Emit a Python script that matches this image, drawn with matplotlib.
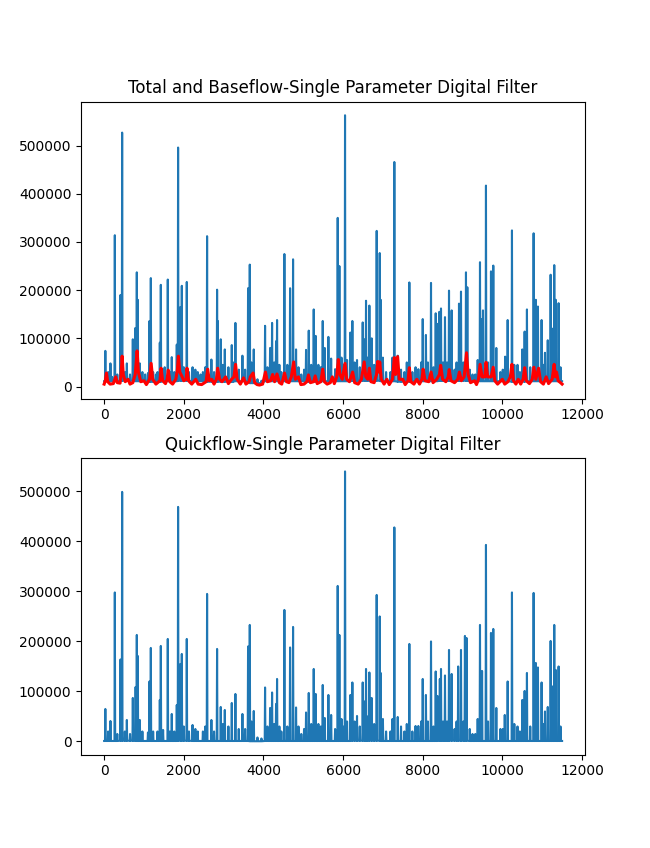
import numpy as np
import matplotlib
matplotlib.use("Agg")
import matplotlib.pyplot as plt

# ---- Total flow: spike days and heights ----
total_days = [
    30, 100, 158, 200, 268, 330, 410, 452, 520, 570,
    650, 720, 778, 820, 845, 896, 960, 1030, 1100, 1138,
    1172, 1230, 1300, 1340, 1398, 1423, 1480, 1520, 1598, 1650,
    1698, 1760, 1824, 1857, 1915, 1950, 2000, 2075, 2130, 2220,
    2290, 2350, 2420, 2480, 2540, 2585, 2693, 2760, 2836, 2855,
    2928, 2980, 3030, 3120, 3205, 3240, 3296, 3380, 3472, 3540,
    3614, 3657, 3700, 3757, 3850, 3950, 4041, 4100, 4167, 4217,
    4270, 4317, 4342, 4400, 4450, 4526, 4600, 4669, 4744, 4819,
    4880, 4950, 5020, 5070, 5138, 5200, 5263, 5313, 5380, 5440,
    5489, 5540, 5631, 5700, 5800, 5865, 5907, 5960, 6000, 6049,
    6100, 6183, 6233, 6290, 6350, 6420, 6493, 6535, 6576, 6620,
    6660, 6718, 6780, 6844, 6920, 6945, 7000, 7080, 7190, 7240,
    7287, 7372, 7455, 7540, 7600, 7664, 7740, 7820, 7890, 7960,
    8000, 8080, 8130, 8208, 8270, 8326, 8370, 8417, 8459, 8510,
    8559, 8610, 8660, 8727, 8800, 8850, 8911, 8961, 9020, 9086,
    9120, 9180, 9250, 9320, 9380, 9438, 9480, 9513, 9588, 9640,
    9714, 9772, 9848, 9950, 10010, 10070, 10133, 10241, 10300, 10380,
    10440, 10500, 10559, 10617, 10700, 10785, 10840, 10893, 10985, 11030,
    11070, 11140, 11212, 11260, 11303, 11340, 11412, 11460,
]
total_peak = [
    74000, 30000, 48000, 20000, 314000, 25000, 190000, 527000, 30000, 48000,
    25000, 98000, 121000, 237000, 180000, 48000, 30000, 25000, 28000, 136000,
    225000, 30000, 25000, 30000, 91000, 211000, 35000, 40000, 222000, 30000,
    61000, 30000, 87000, 496000, 165000, 209000, 40000, 217000, 30000, 40000,
    35000, 30000, 25000, 30000, 40000, 312000, 56000, 30000, 201000, 136000,
    98000, 45000, 77000, 40000, 86000, 50000, 132000, 35000, 64000, 35000,
    204000, 253000, 50000, 77000, 15000, 12000, 126000, 40000, 80000, 132000,
    50000, 94000, 138000, 45000, 30000, 275000, 45000, 204000, 264000, 77000,
    40000, 25000, 35000, 76000, 116000, 45000, 160000, 105000, 45000, 40000,
    136000, 80000, 103000, 58000, 36000, 350000, 250000, 60000, 45000, 563000,
    55000, 112000, 136000, 50000, 55000, 40000, 133000, 98000, 178000, 60000,
    168000, 100000, 45000, 323000, 277000, 180000, 60000, 30000, 30000, 60000,
    466000, 64000, 35000, 30000, 50000, 216000, 30000, 40000, 36000, 50000,
    140000, 107000, 50000, 215000, 40000, 152000, 130000, 155000, 162000, 50000,
    144000, 50000, 199000, 158000, 35000, 50000, 172000, 197000, 50000, 237000,
    206000, 35000, 25000, 25000, 55000, 258000, 140000, 158000, 417000, 50000,
    239000, 251000, 80000, 30000, 35000, 62000, 138000, 324000, 45000, 45000,
    30000, 77000, 114000, 160000, 40000, 318000, 180000, 166000, 138000, 45000,
    70000, 96000, 232000, 120000, 252000, 180000, 173000, 40000,
]
# low level of the total flow between events, one value per year (365 days)
total_floor = [
    11000, 12000, 11000, 10000, 11000, 12000, 11000, 10000, 10000, 11000,
    7000, 11000, 11000, 11000, 10000, 11000, 11000, 12000, 12000, 11000,
    10000, 11000, 11000, 12000, 12000, 11000, 11000, 11000, 10000, 11000,
    11000, 11000,
]

# ---- Baseflow (red) vertices ----
base_days = [
    0, 30, 58, 90, 150, 230, 290, 330, 400, 430, 452, 480, 530, 600, 650,
    720, 780, 828, 860, 920, 1000, 1060, 1140, 1180, 1220, 1300, 1400, 1430,
    1470, 1540, 1580, 1610, 1650, 1720, 1800, 1840, 1865, 1900, 1960, 2000,
    2060, 2080, 2120, 2200, 2300, 2360, 2450, 2560, 2600, 2640, 2700, 2760,
    2820, 2850, 2900, 2960, 3050, 3120, 3200, 3260, 3300, 3340, 3420, 3500,
    3560, 3640, 3670, 3740, 3780, 3840, 3900, 3980, 4050, 4100, 4180, 4230,
    4280, 4340, 4400, 4460, 4530, 4580, 4640, 4700, 4760, 4800, 4880, 4940,
    5020, 5090, 5130, 5180, 5260, 5300, 5350, 5440, 5489, 5530, 5600, 5680,
    5730, 5780, 5840, 5880, 5920, 5980, 6049, 6090, 6160, 6240, 6290, 6380,
    6460, 6530, 6570, 6620, 6660, 6700, 6780, 6840, 6870, 6900, 6920, 6960,
    7030, 7100, 7160, 7240, 7287, 7320, 7370, 7410, 7500, 7560, 7630, 7664,
    7700, 7780, 7850, 7920, 7980, 8010, 8060, 8150, 8210, 8260, 8350, 8420,
    8450, 8500, 8580, 8640, 8665, 8710, 8800, 8880, 8920, 8970, 9040, 9100,
    9140, 9200, 9300, 9350, 9400, 9440, 9490, 9560, 9590, 9630, 9720, 9770,
    9810, 9880, 10000, 10060, 10140, 10200, 10240, 10280, 10340, 10400, 10460,
    10520, 10560, 10600, 10680, 10750, 10790, 10840, 10910, 10960, 11030,
    11100, 11160, 11250, 11300, 11330, 11360, 11400, 11460, 11500,
]
base_vals = [
    5000, 12000, 28000, 10000, 5000, 6000, 20000, 8000, 7000, 30000, 63000, 25000, 10000, 15000, 5000,
    8000, 25000, 74000, 30000, 10000, 12000, 4000, 15000, 48000, 15000, 5000, 12000, 38000,
    12000, 6000, 15000, 34000, 10000, 5000, 15000, 35000, 63000, 30000, 20000, 12000,
    15000, 38000, 12000, 5000, 15000, 5000, 4000, 10000, 36000, 12000, 15000, 5000,
    15000, 38000, 15000, 10000, 20000, 6000, 15000, 20000, 46000, 15000, 5000, 18000,
    5000, 10000, 20000, 28000, 8000, 4000, 3000, 5000, 30000, 10000, 12000, 25000,
    10000, 26000, 8000, 5000, 28000, 10000, 8000, 20000, 51000, 15000, 20000, 4000,
    5000, 10000, 24000, 8000, 10000, 22000, 6000, 10000, 36000, 10000, 5000, 8000,
    20000, 6000, 20000, 56000, 25000, 15000, 48000, 15000, 10000, 30000, 8000, 5000,
    15000, 51000, 20000, 15000, 38000, 10000, 8000, 25000, 52000, 30000, 51000, 15000,
    5000, 15000, 4000, 15000, 60000, 25000, 62000, 15000, 15000, 4000, 12000, 39000,
    10000, 5000, 15000, 5000, 15000, 36000, 12000, 10000, 30000, 8000, 15000, 25000,
    44000, 15000, 10000, 20000, 35000, 12000, 8000, 15000, 30000, 12000, 20000, 70000,
    25000, 8000, 12000, 4000, 15000, 46000, 20000, 20000, 50000, 20000, 20000, 40000,
    12000, 5000, 15000, 5000, 10000, 20000, 46000, 12000, 5000, 15000, 5000,
    15000, 39000, 12000, 6000, 15000, 40000, 15000, 38000, 10000, 5000,
    20000, 6000, 15000, 46000, 20000, 30000, 12000, 8000, 5000,
]

# ---- Quickflow: spike days and heights ----
quick_days = [
    30, 100, 158, 268, 330, 410, 452, 520, 570, 650,
    720, 790, 820, 845, 896, 960, 1100, 1138, 1172, 1230,
    1340, 1398, 1423, 1480, 1598, 1650, 1698, 1760, 1824, 1857,
    1915, 1950, 2000, 2075, 2130, 2220, 2290, 2350, 2480, 2540,
    2585, 2693, 2760, 2836, 2928, 2980, 3030, 3120, 3205, 3296,
    3380, 3472, 3540, 3614, 3657, 3700, 3757, 3850, 3950, 4041,
    4100, 4167, 4217, 4270, 4317, 4342, 4400, 4450, 4526, 4600,
    4669, 4744, 4819, 4880, 4950, 5020, 5070, 5138, 5200, 5263,
    5313, 5380, 5440, 5489, 5540, 5631, 5700, 5800, 5865, 5907,
    5960, 6000, 6049, 6100, 6183, 6233, 6290, 6350, 6420, 6493,
    6535, 6576, 6620, 6660, 6718, 6780, 6844, 6920, 6945, 7000,
    7080, 7190, 7240, 7287, 7372, 7455, 7540, 7600, 7664, 7740,
    7820, 7890, 7960, 8000, 8080, 8130, 8208, 8270, 8326, 8370,
    8430, 8459, 8510, 8559, 8610, 8660, 8727, 8800, 8850, 8890,
    8961, 9020, 9060, 9100, 9180, 9250, 9320, 9380, 9438, 9490,
    9588, 9640, 9714, 9772, 9848, 9950, 10010, 10060, 10133, 10241,
    10300, 10380, 10440, 10500, 10559, 10617, 10700, 10785, 10840, 10893,
    10985, 11030, 11070, 11140, 11212, 11260, 11303, 11340, 11412, 11460,
]
quick_peak = [
    65000, 20000, 41000, 298000, 15000, 164000, 499000, 20000, 43000, 15000,
    87000, 109000, 213000, 171000, 43000, 20000, 18000, 120000, 187000, 20000,
    20000, 83000, 191000, 23000, 205000, 20000, 55000, 20000, 73000, 469000,
    155000, 175000, 30000, 205000, 20000, 33000, 25000, 20000, 20000, 30000,
    295000, 43000, 20000, 185000, 69000, 35000, 63000, 30000, 77000, 95000,
    25000, 55000, 25000, 190000, 233000, 40000, 61000, 8000, 6000, 108000,
    30000, 67000, 98000, 35000, 75000, 125000, 30000, 20000, 263000, 30000,
    188000, 229000, 68000, 30000, 15000, 25000, 58000, 97000, 35000, 145000,
    95000, 35000, 30000, 113000, 47000, 93000, 53000, 25000, 311000, 213000,
    45000, 30000, 540000, 40000, 93000, 118000, 40000, 51000, 30000, 118000,
    80000, 145000, 50000, 138000, 87000, 35000, 293000, 250000, 137000, 45000,
    20000, 20000, 45000, 428000, 49000, 30000, 20000, 35000, 195000, 20000,
    31000, 31000, 40000, 125000, 93000, 40000, 200000, 30000, 140000, 91000,
    125000, 145000, 40000, 132000, 40000, 183000, 135000, 25000, 40000, 150000,
    183000, 40000, 211000, 207000, 25000, 15000, 15000, 45000, 233000, 141000,
    393000, 40000, 217000, 225000, 67000, 25000, 25000, 53000, 120000, 298000,
    35000, 30000, 20000, 83000, 101000, 137000, 30000, 297000, 157000, 148000,
    118000, 35000, 60000, 69000, 201000, 110000, 233000, 143000, 150000, 30000,
]
# low level of the quickflow between events, one value per year (365 days)
quick_floor = [
    1000, 1500, 1000, 1000, 1000, 1500, 1000, 1000, 1000, 1000,
    500, 1000, 1000, 1000, 1000, 1000, 1000, 1500, 1500, 1000,
    1000, 1000, 1000, 1500, 1500, 1000, 1000, 1000, 1000, 1000,
    1000, 1000,
]

FIRST_DAY = 0
LAST_DAY = 11500
SPIKE_HALF_WIDTH = 9   # drawing style: half width of each spike in days


def spike_line(days, peaks, floor_by_year):
    xs = [FIRST_DAY]
    ys = [floor_by_year[0]]
    for d, p in zip(days, peaks):
        f = floor_by_year[min(d // 365, len(floor_by_year) - 1)]
        xs += [d - SPIKE_HALF_WIDTH, d, d + SPIKE_HALF_WIDTH]
        ys += [f, p, f]
    xs.append(LAST_DAY)
    ys.append(floor_by_year[-1])
    return np.array(xs), np.array(ys)


tx, ty = spike_line(total_days, total_peak, total_floor)
qx, qy = spike_line(quick_days, quick_peak, quick_floor)

fig, (ax1, ax2) = plt.subplots(2, 1, figsize=(6.5, 8.48), dpi=100)

ax1.plot(tx, ty, color="#1f77b4", linewidth=1.5)
ax1.plot(base_days, base_vals, color="red", linewidth=2.2)
ax1.set_title("Total and Baseflow-Single Parameter Digital Filter")

ax2.plot(qx, qy, color="#1f77b4", linewidth=1.5)
ax2.set_title("Quickflow-Single Parameter Digital Filter")

fig.savefig("out.png", dpi=100)
